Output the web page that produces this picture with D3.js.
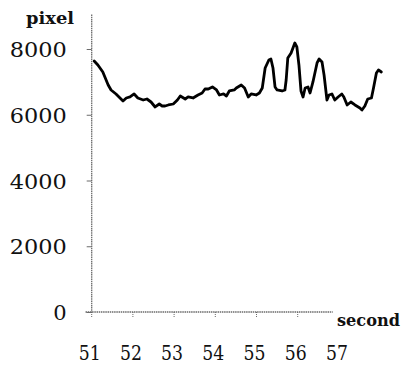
<!DOCTYPE html>
<html>
<head>
<meta charset="utf-8">
<script src="https://cdn.jsdelivr.net/npm/d3@7"></script>
<style>
  html, body { margin: 0; padding: 0; background: #fff; }
  svg { display: block; }
</style>
</head>
<body>
<svg id="chart" width="406" height="367"></svg>
<script>
// Time stamps (seconds) and measured pixel counts of the trace
const seconds = [
  51.06, 51.15, 51.27, 51.40, 51.47, 51.59, 51.76, 51.84, 51.93, 52.03,
  52.12, 52.25, 52.34, 52.44, 52.54, 52.64, 52.71, 52.78, 52.86, 52.98,
  53.08, 53.15, 53.27, 53.34, 53.46, 53.58, 53.68, 53.75, 53.83, 53.93,
  54.03, 54.10, 54.20, 54.27, 54.34, 54.46, 54.51, 54.63, 54.71, 54.80,
  54.87, 54.99, 55.07, 55.14, 55.21, 55.30, 55.35, 55.40, 55.45, 55.50,
  55.62, 55.69, 55.72, 55.76, 55.84, 55.93, 55.98, 56.03, 56.08, 56.13,
  56.18, 56.25, 56.30, 56.37, 56.47, 56.52, 56.59, 56.64, 56.71, 56.76,
  56.83, 56.90, 56.98, 57.07, 57.12, 57.20, 57.29, 57.39, 57.51, 57.56,
  57.63, 57.70, 57.79, 57.84, 57.91, 57.96, 58.03
];
const pixels = [
  7635, 7514, 7301, 6905, 6753, 6632, 6419, 6510, 6541, 6632,
  6510, 6449, 6479, 6388, 6236, 6327, 6266, 6266, 6297, 6327,
  6449, 6571, 6479, 6541, 6510, 6601, 6662, 6784, 6784, 6845,
  6753, 6601, 6632, 6571, 6723, 6753, 6814, 6905, 6814, 6541,
  6632, 6601, 6662, 6814, 7422, 7666, 7696, 7422, 6845, 6753,
  6723, 6753, 7057, 7727, 7879, 8183, 8061, 7514, 6723, 6541,
  6814, 6845, 6662, 6997, 7575, 7696, 7605, 7210, 6449, 6601,
  6632, 6449, 6541, 6632, 6541, 6297, 6388, 6297, 6206, 6145,
  6266, 6479, 6510, 6814, 7270, 7362, 7301
];
const yTicks = [0, 2000, 4000, 6000, 8000];
const xTickLabels = [51, 52, 53, 54, 55, 56, 57];
const xTickMarks = [51, 52, 53, 54, 55, 56];

const svg = d3.select("#chart");
const x = d3.scaleLinear().domain([51, 58]).range([91.7, 380.1]);
const y = d3.scaleLinear().domain([0, 8000]).range([312, 49]);

const axisColor = "#6b6b6b";
const serif = "'DejaVu Serif', serif";

// Vertical axis
svg.append("line")
  .attr("x1", x(51)).attr("x2", x(51))
  .attr("y1", y(0) + 1).attr("y2", y(9050))
  .attr("stroke", axisColor).attr("stroke-width", 1.3)
  .attr("stroke-dasharray", "1.5 0.7");

// Horizontal axis
svg.append("line")
  .attr("x1", x(50.85)).attr("x2", x(56.85))
  .attr("y1", y(0)).attr("y2", y(0))
  .attr("stroke", axisColor).attr("stroke-width", 1.3)
  .attr("stroke-dasharray", "1.5 0.7");

// Y ticks and labels
const yAxis = d3.axisLeft(y).tickValues(yTicks).tickSize(5).tickPadding(20)
  .tickFormat(d3.format("d"));
const gy = svg.append("g").attr("transform", `translate(${x(51)},0)`).call(yAxis);
gy.select(".domain").remove();
gy.selectAll(".tick line").attr("stroke", axisColor).attr("stroke-width", 1);
gy.selectAll(".tick text")
  .attr("fill", "#111")
  .attr("font-family", serif)
  .attr("font-size", 21)
  .attr("dy", "0.36em")
  .each(function (d) {
    const s = String(d);
    if (s.length === 4) {
      d3.select(this).attr("textLength", 57).attr("lengthAdjust", "spacingAndGlyphs");
    }
  });

// X ticks
const gx = svg.append("g").attr("transform", `translate(0,${y(0)})`);
gx.selectAll("line.tk").data(xTickMarks).join("line")
  .attr("class", "tk")
  .attr("x1", d => x(d)).attr("x2", d => x(d))
  .attr("y1", 0).attr("y2", 6)
  .attr("stroke", axisColor).attr("stroke-width", 1)
  .attr("stroke-dasharray", "1 1");

// X tick labels
svg.selectAll("text.xl").data(xTickLabels).join("text")
  .attr("class", "xl")
  .attr("x", d => x(d) - 2)
  .attr("y", 359.5)
  .attr("text-anchor", "middle")
  .attr("font-family", serif)
  .attr("font-size", 21)
  .attr("fill", "#111")
  .attr("textLength", 22)
  .attr("lengthAdjust", "spacingAndGlyphs")
  .text(d => d);

// Axis titles
svg.append("text")
  .attr("x", 26).attr("y", 24)
  .attr("font-family", serif).attr("font-weight", "bold")
  .attr("font-size", 16).attr("fill", "#111")
  .attr("textLength", 48).attr("lengthAdjust", "spacingAndGlyphs")
  .text("pixel");

svg.append("text")
  .attr("x", 337).attr("y", 326)
  .attr("font-family", serif).attr("font-weight", "bold")
  .attr("font-size", 17).attr("fill", "#111")
  .attr("textLength", 63).attr("lengthAdjust", "spacingAndGlyphs")
  .text("second");

// Data trace
const pts = seconds.map((s, i) => [s, pixels[i]]);
const line = d3.line().x(d => x(d[0])).y(d => y(d[1])).curve(d3.curveLinear);
svg.append("path")
  .datum(pts)
  .attr("d", line)
  .attr("fill", "none")
  .attr("stroke", "#000")
  .attr("stroke-width", 2.8)
  .attr("stroke-linejoin", "round")
  .attr("stroke-linecap", "round");
</script>
</body>
</html>
